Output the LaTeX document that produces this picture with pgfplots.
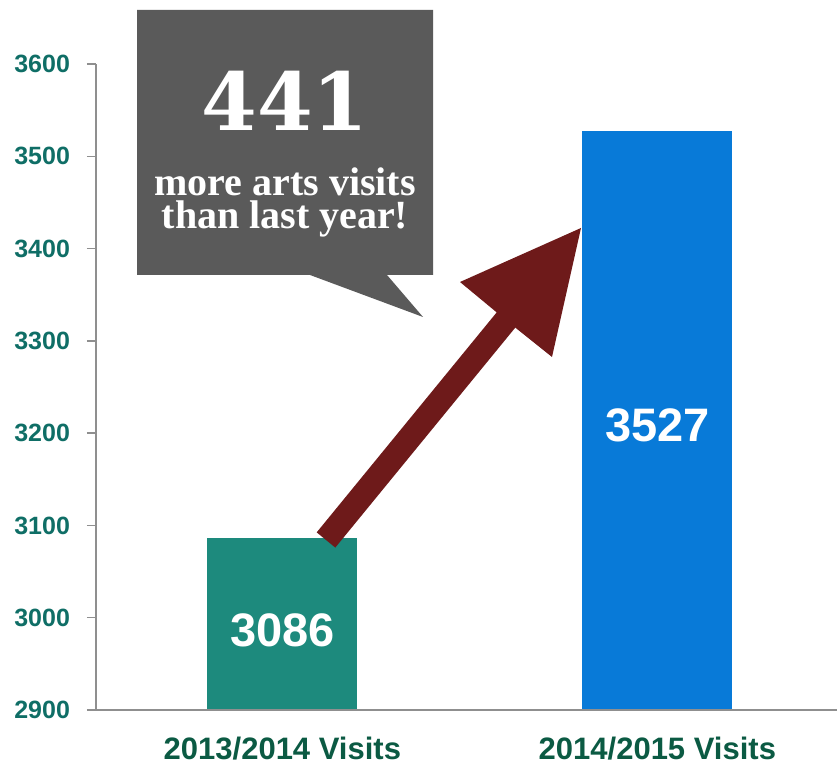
\documentclass[border=0pt]{standalone}
\usepackage{pgfplots}
\pgfplotsset{compat=1.18}
\usepackage{fontspec}
\setmainfont{Liberation Sans}
\newfontfamily\calloutfont{Liberation Serif}
\newfontfamily\bigfont{DejaVu Serif}

\definecolor{tealbar}{HTML}{1D8A7D}
\definecolor{bluebar}{HTML}{087AD8}
\definecolor{ticktxt}{HTML}{0F6E66}
\definecolor{labtxt}{HTML}{0B5A43}
\definecolor{calloutgray}{HTML}{5A5A5A}
\definecolor{arrowred}{HTML}{6E1A1A}
\definecolor{axisgray}{HTML}{8F8F8F}

\begin{document}
\begin{tikzpicture}
\useasboundingbox (0,0) rectangle (418.5pt,382.5pt);
\begin{axis}[
    at={(48pt,27.5pt)}, anchor=south west,
    scale only axis, width=370.5pt, height=323pt,
    xmin=-0.497, xmax=1.479,
    ymin=2900, ymax=3600,
    ytick={2900,3000,...,3600},
    xtick={0,1},
    xticklabels={2013/2014 Visits, 2014/2015 Visits},
    axis x line*=bottom, axis y line*=left,
    axis line style={axisgray, line width=0.75pt},
    tick align=outside, major tick length=4.5pt,
    ytick style={axisgray, line width=0.75pt},
    xtick style={draw=none},
    /pgf/number format/1000 sep={},
    /pgf/number format/assume math mode=true,
    yticklabel style={font=\bfseries\fontsize{12.5}{12.5}\selectfont, text=ticktxt, xshift=-5pt},
    xticklabel style={font=\bfseries\fontsize{15.5}{15.5}\selectfont, text=labtxt, yshift=-5.5pt},
    axis on top,
    clip=false,
]
\addplot[ybar, bar width=0.4, fill=tealbar, draw=none] coordinates {(0,3086)};
\addplot[ybar, bar width=0.4, fill=bluebar, draw=none] coordinates {(1,3527)};
\node[text=white, font=\bfseries\fontsize{23.5}{23.5}\selectfont] at (axis cs:0,2986.7) {3086};
\node[text=white, font=\bfseries\fontsize{23.5}{23.5}\selectfont] at (axis cs:1,3208.8) {3527};
\end{axis}

% callout and arrow, in pixel units of the reference (origin top left)
\begin{scope}[x=0.5pt, y=-0.5pt, yshift=382.5pt]
\fill[calloutgray] (137,10) -- (433,10) -- (433,275) -- (387,275) -- (423,317)
    -- (310,275) -- (137,275) -- cycle;
\node[text=white, font=\bigfont\bfseries\fontsize{40}{40}\selectfont] at (285,101) {441};
\node[text=white, anchor=base, inner sep=0pt, font=\calloutfont\bfseries\fontsize{20}{20}\selectfont] at (285,196) {more arts visits};
\node[text=white, anchor=base, inner sep=0pt, font=\calloutfont\bfseries\fontsize{20}{20}\selectfont] at (285,229) {than last year!};
\fill[arrowred] (316.7,532.4) -- (496.7,312.4) -- (460,282) -- (581,228)
    -- (552,357) -- (515.3,327.6) -- (335.3,547.6) -- cycle;
\end{scope}
\end{tikzpicture}
\end{document}
